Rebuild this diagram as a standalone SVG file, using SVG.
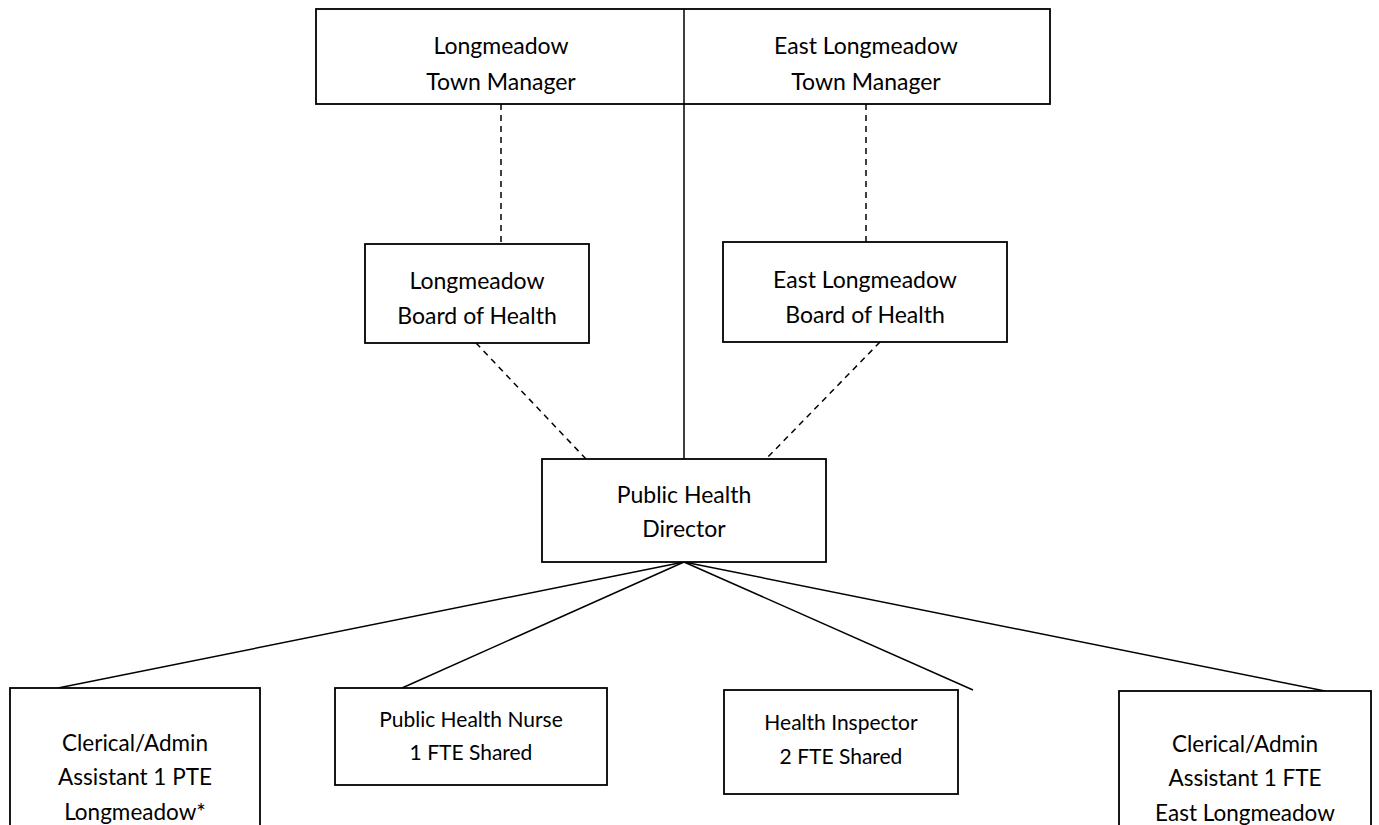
<svg xmlns="http://www.w3.org/2000/svg" width="1379" height="825" viewBox="0 0 1379 825">
<style>
  .box { fill: #fff; stroke: #000; stroke-width: 1.8; }
  .t { font-family: Lato, "Open Sans", sans-serif; font-size: 23px; fill: #000; text-anchor: middle; dominant-baseline: central; }
  .s { font-size: 21px; }
  .c { font-size: 22.5px; }
  .solid { stroke: #000; stroke-width: 1.5; fill: none; }
  .dash { stroke: #000; stroke-width: 1.5; fill: none; stroke-dasharray: 6 5; }
</style>
<rect width="1379" height="825" fill="#fff"/>
<g id="connectors">
  <line class="solid" x1="684" y1="9" x2="684" y2="459"/>
  <line class="dash" x1="501" y1="104" x2="501" y2="244"/>
  <line class="dash" x1="866" y1="104" x2="866" y2="242"/>
  <line class="dash" x1="476" y1="343" x2="586" y2="459"/>
  <line class="dash" x1="880" y1="342" x2="766" y2="459"/>
  <line class="solid" x1="684" y1="562" x2="58" y2="688"/>
  <line class="solid" x1="684" y1="562" x2="402" y2="688"/>
  <line class="solid" x1="684" y1="562" x2="973" y2="690"/>
  <line class="solid" x1="684" y1="562" x2="1325" y2="691"/>
</g>
<g id="top-managers">
  <rect class="box" x="316" y="9" width="734" height="95"/>
  <line class="solid" x1="684" y1="9" x2="684" y2="104"/>
  <text class="t" x="501" y="45">Longmeadow</text>
  <text class="t" x="501" y="81">Town Manager</text>
  <text class="t" x="866" y="45">East Longmeadow</text>
  <text class="t" x="866" y="81">Town Manager</text>
</g>
<g id="longmeadow-boh">
  <rect class="box" x="365" y="244" width="224" height="99"/>
  <text class="t" x="477" y="280">Longmeadow</text>
  <text class="t" x="477" y="315">Board of Health</text>
</g>
<g id="east-longmeadow-boh">
  <rect class="box" x="723" y="242" width="284" height="100"/>
  <text class="t" x="865" y="279">East Longmeadow</text>
  <text class="t" x="865" y="314">Board of Health</text>
</g>
<g id="public-health-director">
  <rect class="box" x="542" y="459" width="284" height="103"/>
  <text class="t" x="684" y="494">Public Health</text>
  <text class="t" x="684" y="528">Director</text>
</g>
<g id="clerical-longmeadow">
  <rect class="box" x="10" y="688" width="250" height="150"/>
  <text class="t c" x="135" y="742">Clerical/Admin</text>
  <text class="t c" x="135" y="776">Assistant 1 PTE</text>
  <text class="t c" x="135" y="811">Longmeadow*</text>
</g>
<g id="public-health-nurse">
  <rect class="box" x="335" y="688" width="272" height="97"/>
  <text class="t s" x="471" y="718">Public Health Nurse</text>
  <text class="t s" x="471" y="751">1 FTE Shared</text>
</g>
<g id="health-inspector">
  <rect class="box" x="724" y="690" width="234" height="104"/>
  <text class="t s" x="841" y="721">Health Inspector</text>
  <text class="t s" x="841" y="755">2 FTE Shared</text>
</g>
<g id="clerical-east-longmeadow">
  <rect class="box" x="1119" y="691" width="252" height="150"/>
  <text class="t c" x="1245" y="743">Clerical/Admin</text>
  <text class="t c" x="1245" y="777">Assistant 1 FTE</text>
  <text class="t c" x="1245" y="812">East Longmeadow</text>
</g>
</svg>
